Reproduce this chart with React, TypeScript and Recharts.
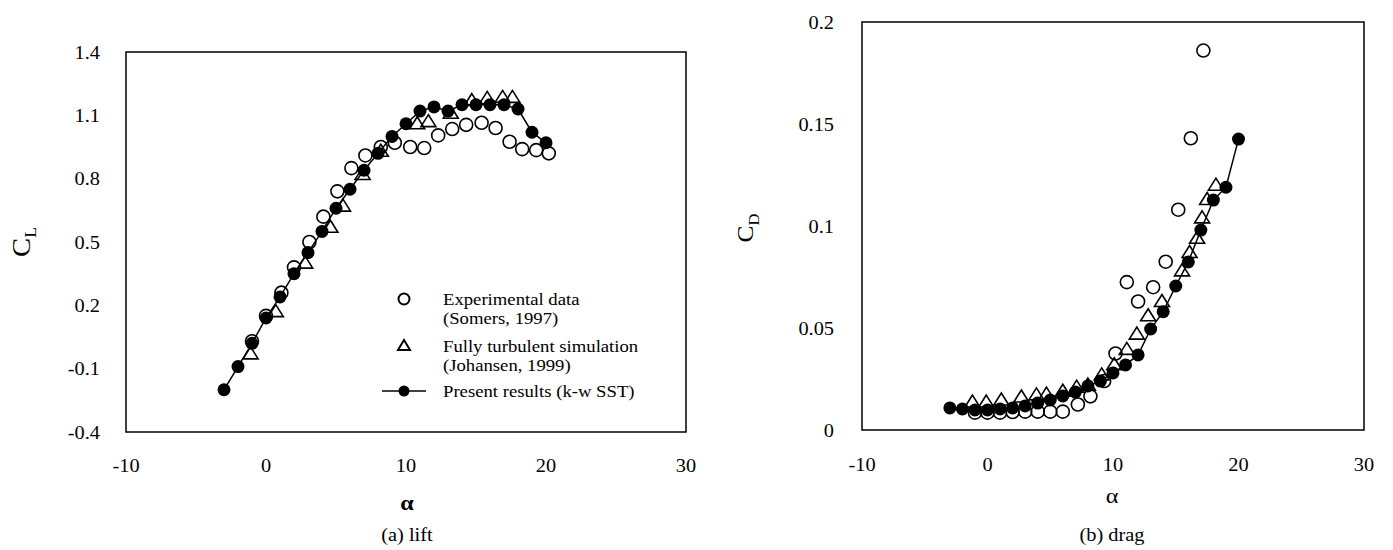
import { ScatterChart, Scatter, XAxis, YAxis, ReferenceArea, Legend } from 'recharts';

const serif = '"Liberation Serif", "Times New Roman", serif';

// present results (k-w SST), one run per degree
const alphaPresent = [-3, -2, -1, 0, 1, 2, 3, 4, 5, 6, 7, 8, 9, 10, 11, 12, 13, 14, 15, 16, 17, 18, 19, 20];
const clPresent = [-0.2, -0.09, 0.02, 0.14, 0.24, 0.35, 0.45, 0.55, 0.66, 0.75, 0.84, 0.92, 1.0, 1.06, 1.12, 1.14, 1.12, 1.15, 1.15, 1.15, 1.15, 1.13, 1.02, 0.97];
const cdPresent = [0.0108, 0.0103, 0.0098, 0.0098, 0.0103, 0.0108, 0.0118, 0.0132, 0.0147, 0.0167, 0.0186, 0.0216, 0.024, 0.028, 0.0319, 0.0368, 0.0495, 0.058, 0.0706, 0.0824, 0.098, 0.1127, 0.119, 0.1426];

// Somers (1997) wind tunnel data
const alphaExpLift = [-1, 0, 1.1, 2, 3.1, 4.1, 5.1, 6.1, 7.1, 8.2, 9.2, 10.3, 11.3, 12.3, 13.3, 14.3, 15.4, 16.4, 17.4, 18.3, 19.3, 20.2];
const clExp = [0.03, 0.15, 0.26, 0.38, 0.5, 0.62, 0.74, 0.85, 0.91, 0.95, 0.97, 0.95, 0.945, 1.005, 1.035, 1.055, 1.065, 1.04, 0.975, 0.94, 0.935, 0.92];
const alphaExpDrag = [-1, 0, 1, 2, 3, 4, 5, 6, 7.2, 8.2, 9.3, 10.2, 11.1, 12, 13.2, 14.2, 15.2, 16.2, 17.2];
const cdExp = [0.0085, 0.0085, 0.0085, 0.0088, 0.009, 0.009, 0.009, 0.009, 0.0125, 0.0165, 0.024, 0.0375, 0.0725, 0.063, 0.07, 0.0825, 0.108, 0.143, 0.186];

// Johansen (1999) fully turbulent simulation
const alphaJohLift = [-1.1, 0.7, 2.8, 4.6, 5.5, 6.9, 8.2, 10.8, 11.6, 13.2, 14.7, 15.8, 16.9, 17.6];
const clJoh = [-0.03, 0.17, 0.4, 0.57, 0.67, 0.82, 0.93, 1.06, 1.07, 1.11, 1.17, 1.18, 1.185, 1.185];
const alphaJohDrag = [-1.2, -0.1, 1.1, 2.7, 3.9, 4.7, 6, 7.1, 8, 9.1, 10.1, 11.1, 11.9, 12.8, 13.9, 15.5, 16.1, 16.7, 17.1, 17.5, 18.2];
const cdJoh = [0.0137, 0.0137, 0.0147, 0.0162, 0.0172, 0.0176, 0.019, 0.021, 0.022, 0.027, 0.032, 0.0395, 0.047, 0.056, 0.063, 0.078, 0.087, 0.094, 0.104, 0.113, 0.12];

const alphaTicks = [-10, 0, 10, 20, 30];
const clTicks = [-0.4, -0.1, 0.2, 0.5, 0.8, 1.1, 1.4];
const cdTicks = [0, 0.05, 0.1, 0.15, 0.2];

const zip = (xs: number[], ys: number[]) => xs.map((a, i) => ({ alpha: a, value: ys[i] }));

// the serif type in this figure is set a little wide
const STRETCH = 1.1;

const OpenCircle = (p: any) => (
  <circle cx={p.cx} cy={p.cy} r={6.5} fill="none" stroke="#000" strokeWidth={1.6} />
);
const FilledCircle = (p: any) => <circle cx={p.cx} cy={p.cy} r={6.5} fill="#000" />;
const Triangle = (p: any) => {
  const { cx, cy } = p;
  return (
    <path
      d={`M${cx},${cy - 7} L${cx + 7.5},${cy + 5} L${cx - 7.5},${cy + 5} Z`}
      fill="none"
      stroke="#000"
      strokeWidth={1.6}
    />
  );
};

const WideText = ({ x, y, children, anchor = 'start', dy = 0 }: any) => (
  <text
    transform={`translate(${x},${y}) scale(${STRETCH},1)`}
    textAnchor={anchor}
    dy={dy}
    fill="#000"
  >
    {children}
  </text>
);

const XTick = (p: any) => (
  <g style={{ fontFamily: serif, fontSize: 18.5 }}>
    <WideText x={p.x} y={p.y} anchor="middle" dy="0.71em">
      {p.payload.value}
    </WideText>
  </g>
);
const YTick = (p: any) => (
  <g style={{ fontFamily: serif, fontSize: 18.5 }}>
    <WideText x={p.x} y={p.y} anchor="end" dy="0.355em">
      {p.payload.value}
    </WideText>
  </g>
);

const LiftLegend = () => (
  <svg width={300} height={125} style={{ fontFamily: serif, fontSize: 17 }}>
    <circle cx={29} cy={14} r={5.5} fill="none" stroke="#000" strokeWidth={2} />
    <WideText x={68} y={20}>Experimental data</WideText>
    <WideText x={68} y={39}>(Somers, 1997)</WideText>
    <path d="M29,55 L35,65 L23,65 Z" fill="none" stroke="#000" strokeWidth={2} />
    <WideText x={68} y={67}>Fully turbulent simulation</WideText>
    <WideText x={68} y={86}>(Johansen, 1999)</WideText>
    <line x1={7} y1={106} x2={51} y2={106} stroke="#000" strokeWidth={1.5} />
    <circle cx={29} cy={106} r={5.5} fill="#000" />
    <WideText x={68} y={112}>Present results (k-w SST)</WideText>
  </svg>
);

interface PanelProps {
  width: number;
  margin: { top: number; right: number; bottom: number; left: number };
  yWidth: number;
  xHeight: number;
  yDomain: [number, number];
  yTicks: number[];
  xMargin: number;
  yMargin: number;
  exp: { alpha: number; value: number }[];
  joh: { alpha: number; value: number }[];
  present: { alpha: number; value: number }[];
  legend?: boolean;
}

function Panel(props: PanelProps) {
  const { width, margin, yWidth, xHeight, yDomain, yTicks, xMargin, yMargin, exp, joh, present, legend } = props;
  return (
    <ScatterChart width={width} height={550} margin={margin}>
      <XAxis
        type="number"
        dataKey="alpha"
        domain={[-10, 30]}
        ticks={alphaTicks}
        height={xHeight}
        axisLine={false}
        tickLine={false}
        tickSize={0}
        tickMargin={xMargin}
        tick={XTick}
        allowDataOverflow
      />
      <YAxis
        type="number"
        dataKey="value"
        domain={yDomain}
        ticks={yTicks}
        width={yWidth}
        axisLine={false}
        tickLine={false}
        tickSize={0}
        tickMargin={yMargin}
        tick={YTick}
        interval={0}
        allowDataOverflow
      />
      <ReferenceArea
        x1={-10}
        x2={30}
        y1={yDomain[0]}
        y2={yDomain[1]}
        fill="none"
        stroke="#000"
        strokeWidth={1.5}
      />
      <Scatter data={exp} shape={OpenCircle} isAnimationActive={false} />
      <Scatter data={joh} shape={Triangle} isAnimationActive={false} />
      <Scatter
        data={present}
        shape={FilledCircle}
        line={{ stroke: '#000', strokeWidth: 1.5 }}
        isAnimationActive={false}
      />
      {legend && (
        <Legend
          layout="horizontal"
          verticalAlign="middle"
          align="center"
          content={LiftLegend}
          wrapperStyle={{ left: 375, top: 285, width: 300 }}
        />
      )}
    </ScatterChart>
  );
}

const label = (x: number, y: number, extra: React.CSSProperties = {}, rotate = 0): React.CSSProperties => ({
  position: 'absolute',
  left: x,
  top: y,
  transform: `translate(-50%, -50%) rotate(${rotate}deg) scale(${STRETCH}, 1)`,
  fontFamily: serif,
  color: '#000',
  whiteSpace: 'nowrap',
  lineHeight: 1,
  ...extra,
});

export default function App() {
  return (
    <div style={{ position: 'absolute', left: 0, top: 0, width: 1393, height: 550, background: '#fff' }}>
      <div style={{ position: 'absolute', left: 0, top: 0 }}>
        <Panel
          width={700}
          margin={{ top: 52, right: 14, bottom: 0, left: 0 }}
          yWidth={126}
          xHeight={118}
          yDomain={[-0.4, 1.4]}
          yTicks={clTicks}
          xMargin={27}
          yMargin={26}
          exp={zip(alphaExpLift, clExp)}
          joh={zip(alphaJohLift, clJoh)}
          present={zip(alphaPresent, clPresent)}
          legend
        />
      </div>
      <div style={{ position: 'absolute', left: 700, top: 0 }}>
        <Panel
          width={693}
          margin={{ top: 22, right: 29, bottom: 0, left: 0 }}
          yWidth={162}
          xHeight={120}
          yDomain={[0, 0.2]}
          yTicks={cdTicks}
          xMargin={28}
          yMargin={28}
          exp={zip(alphaExpDrag, cdExp)}
          joh={zip(alphaJohDrag, cdJoh)}
          present={zip(alphaPresent, cdPresent)}
        />
      </div>

      <div style={label(24, 242, { fontSize: 26 }, -90)}>
        C<sub style={{ fontSize: 16 }}>L</sub>
      </div>
      <div style={label(748, 228, { fontSize: 23 }, -90)}>
        C<sub style={{ fontSize: 15 }}>D</sub>
      </div>
      <div style={label(407, 503, { fontSize: 22, fontWeight: 'bold' })}>α</div>
      <div style={label(1112, 496, { fontSize: 22 })}>α</div>
      <div style={label(407, 535, { fontSize: 18.5 })}>(a) lift</div>
      <div style={label(1112, 535, { fontSize: 18.5 })}>(b) drag</div>
    </div>
  );
}
